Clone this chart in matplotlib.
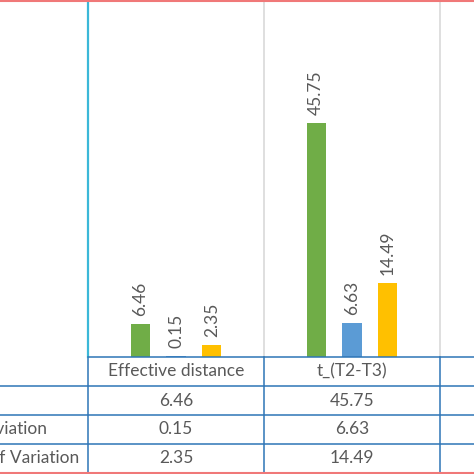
import numpy as np
import matplotlib
matplotlib.use("Agg")
import matplotlib.pyplot as plt
import matplotlib.transforms as mtransforms
from matplotlib.lines import Line2D

categories = ["Effective distance", "t_(T2-T3)"]
row_labels = ["Mean", "Standard Deviation", "Coefficient of Variation"]
mean = [6.46, 45.75]
std_dev = [0.15, 6.63]
coef_var = [2.35, 14.49]

series = [mean, std_dev, coef_var]
colors = ["#70AD47", "#5B9BD5", "#FFC000"]
txt_col = "#595959"
tab_col = "#2E75B6"

plt.rcParams['font.family'] = ['Lato', 'DejaVu Sans']

W = H = 474
fig = plt.figure(figsize=(4.74, 4.74), dpi=100)
ax = fig.add_axes([88/W, 117/H, 386/W, 357/H])

x = np.arange(len(categories))
bw = 0.108
off = 0.2045
for i, (vals, c) in enumerate(zip(series, colors)):
    bars = ax.bar(x + (i - 1)*off, vals, bw, color=c, zorder=3)
    ax.bar_label(bars, fmt="%.2f", rotation=90, padding=6, color=txt_col, fontsize=12.5)

ax.set_xlim(-0.5, -0.5 + 386/176)
ax.set_ylim(0, 69.8)
for s in ["top", "right", "bottom"]:
    ax.spines[s].set_visible(False)
ax.spines["left"].set_color("#3BB8D8")
ax.spines["left"].set_linewidth(1.6)
ax.set_xticks([])
ax.set_yticks([])
for b in [0.5, 1.5]:
    ax.axvline(b, color="#D9D9D9", lw=1.2, zorder=1)

# data table under the plot
tr = mtransforms.blended_transform_factory(ax.transData, fig.transFigure)
rows_y = [117, 88, 59, 30, 2]
rows_y = [v/H for v in rows_y]
fig.add_artist(Line2D([88/W, 1], [rows_y[0]]*2, color=tab_col, lw=1.1))
for yy in rows_y[1:4]:
    fig.add_artist(Line2D([0, 1], [yy]*2, color=tab_col, lw=1.1))
for b in [-0.5, 0.5, 1.5]:
    ax.add_artist(Line2D([b, b], [rows_y[4], rows_y[0]], transform=tr,
                         color=tab_col, lw=1.1, clip_on=False))

for j, cat in enumerate(categories):
    ax.text(j, (rows_y[0] + rows_y[1])/2, cat, transform=tr, ha="center",
            va="center", color=txt_col, fontsize=12.5, clip_on=False)
    for i, vals in enumerate(series):
        ax.text(j, (rows_y[i+1] + rows_y[i+2])/2, "%.2f" % vals[j], transform=tr,
                ha="center", va="center", color=txt_col, fontsize=12.5, clip_on=False)

# row labels start left of the visible area (cropped like the original)
for i, lab in enumerate(row_labels):
    fig.text(-100/W, (rows_y[i+1] + rows_y[i+2])/2, lab, ha="left", va="center",
             color=txt_col, fontsize=12.5)

# red frame lines
fig.add_artist(Line2D([0, 1], [1 - 1/H]*2, color="#F07878", lw=1.5))
fig.add_artist(Line2D([0, 1], [1/H]*2, color="#F07878", lw=1.5))

fig.savefig("out.png", dpi=100)
